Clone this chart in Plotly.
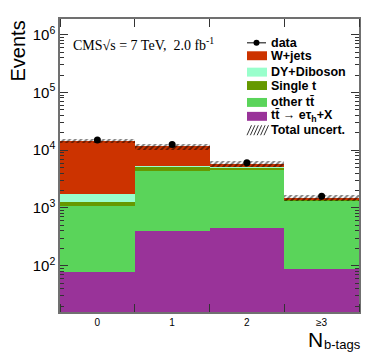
import numpy as np
import plotly.graph_objects as go

# b-tag multiplicity bins
bins = [0, 1, 2, 3]
bin_labels = ["0", "1", "2", "≥3"]

# MC components (events per bin, stacked bottom -> top)
tt_etau = [77, 404, 454, 89]
other_tt = [993, 4046, 4126, 1241]
single_t = [210, 760, 320, 30]
dy_diboson = [440, 210, 150, 20]
w_jets = [12780, 6180, 730, 120]

total_unc = [1100, 1350, 650, 155]

data_y = [15000, 12600, 6050, 1600]
data_err = [122, 112, 78, 40]

stack = [
    ("tt_etau", tt_etau, "#993399"),
    ("other_tt", other_tt, "#5ad45a"),
    ("single_t", single_t, "#669900"),
    ("dy", dy_diboson, "#99ffcc"),
    ("wjets", w_jets, "#cc3300"),
]

cum = np.cumsum([np.array(s[1], dtype=float) for s in stack], axis=0)
total = cum[-1]

fig = go.Figure()

# draw cumulative bars, largest first so smaller ones overlay
for i in reversed(range(len(stack))):
    fig.add_trace(go.Bar(x=bins, y=cum[i], width=1, marker=dict(color=stack[i][2], line=dict(width=0)),
                         showlegend=False, hoverinfo="skip"))

unc = np.array(total_unc, dtype=float)
fig.add_trace(go.Bar(x=bins, y=2 * unc, base=total - unc, width=1,
                     marker=dict(color="rgba(0,0,0,0)", line=dict(width=0),
                                 pattern=dict(shape="/", fgcolor="black", bgcolor="rgba(0,0,0,0)",
                                              size=4, solidity=0.5)),
                     showlegend=False, hoverinfo="skip"))

fig.add_trace(go.Scatter(x=bins, y=data_y, mode="markers",
                         marker=dict(color="black", size=7),
                         error_y=dict(type="data", array=data_err, color="black", thickness=1, width=0),
                         showlegend=False))

# pixel -> paper helpers (plot area 60..359 x 17..312 in the window)
def fx(px):
    return (px - 60) / 299

def fy(py):
    return (312 - py) / 295

shapes = []
annotations = []
legend_font = dict(family="Liberation Sans", size=12.5, color="black")

# legend: data
shapes.append(dict(type="line", xref="paper", yref="paper", x0=fx(247), x1=fx(266), y0=fy(41), y1=fy(41),
                   line=dict(color="black", width=1)))
shapes.append(dict(type="circle", xref="paper", yref="paper", x0=fx(253.5), x1=fx(259.5), y0=fy(44), y1=fy(38),
                   fillcolor="black", line=dict(color="black", width=0)))
legend_rows = [
    ("<b>data</b>", 41, None),
    ("<b>W+jets</b>", 54, "#cc3300"),
    ("<b>DY+Diboson</b>", 70.5, "#99ffcc"),
    ("<b>Single t</b>", 84, "#669900"),
    ("<b>other tt\u0304</b>", 101, "#5ad45a"),
    ("<b>tt\u0304 → eτ<sub>h</sub>+X</b>", 115, "#993399"),
    ("<b>Total uncert.</b>", 129, "hatch"),
]
for label, yc, col in legend_rows:
    if col == "hatch":
        for k in range(6):
            x0 = 247 + 3.4 * k
            shapes.append(dict(type="line", xref="paper", yref="paper", x0=fx(x0), x1=fx(x0 + 4.5),
                               y0=fy(yc + 5), y1=fy(yc - 5), line=dict(color="#333", width=1)))
    elif col is not None:
        shapes.append(dict(type="rect", xref="paper", yref="paper", x0=fx(247), x1=fx(267),
                           y0=fy(yc + 4.5), y1=fy(yc - 4.5), fillcolor=col, line=dict(width=0)))
    annotations.append(dict(text=label, xref="paper", yref="paper", x=fx(269), y=fy(yc),
                            xanchor="left", yanchor="middle", showarrow=False, font=legend_font))

annotations.append(dict(text="CMS√s = 7 TeV,  2.0 fb<sup>-1</sup>", xref="paper", yref="paper",
                        x=fx(71), y=fy(42), xanchor="left", yanchor="middle", showarrow=False,
                        font=dict(family="Liberation Serif", size=14, color="black")))
annotations.append(dict(text="Events", xref="paper", yref="paper", x=fx(17), y=1.0, textangle=-90,
                        xanchor="center", yanchor="top", showarrow=False,
                        font=dict(family="Liberation Sans", size=20, color="black")))
annotations.append(dict(text="N", xref="paper", yref="paper", x=fx(325), y=fy(340),
                        xanchor="right", yanchor="middle", showarrow=False,
                        font=dict(family="Liberation Sans", size=21, color="black")))
annotations.append(dict(text="b-tags", xref="paper", yref="paper", x=fx(322), y=fy(344.5),
                        xanchor="left", yanchor="middle", showarrow=False,
                        font=dict(family="Liberation Sans", size=13, color="black")))

axis_col = "#707070"
# page body has an 8px margin, so the figure is shrunk and margins shifted by 8px
fig.update_layout(
    width=366, height=351,
    margin=dict(l=52, r=15, t=9, b=47),
    paper_bgcolor="white", plot_bgcolor="white",
    barmode="overlay", bargap=0,
    shapes=shapes, annotations=annotations,
    font=dict(family="Liberation Sans", color="black"),
    xaxis=dict(range=[-0.5, 3.5], tickvals=bins, ticktext=bin_labels, ticks="",
               tickfont=dict(size=10), showgrid=False, zeroline=False,
               showline=True, linecolor=axis_col, linewidth=1.5, mirror="allticks",
               minor=dict(tick0=0.5, dtick=1, ticks="inside", ticklen=8, tickcolor="#333", showgrid=False)),
    yaxis=dict(type="log", range=[1.2, 6.27], tickvals=[1e2, 1e3, 1e4, 1e5, 1e6],
               ticktext=["10<sup>2</sup>", "10<sup>3</sup>", "10<sup>4</sup>", "10<sup>5</sup>", "10<sup>6</sup>"],
               ticks="inside", ticklen=8, tickcolor="#333", tickfont=dict(size=15),
               showgrid=False, zeroline=False,
               showline=True, linecolor=axis_col, linewidth=1.5, mirror="allticks",
               minor=dict(dtick="D1", ticks="inside", ticklen=4, tickcolor="#333", showgrid=False)),
)

fig.write_html("out.html")
